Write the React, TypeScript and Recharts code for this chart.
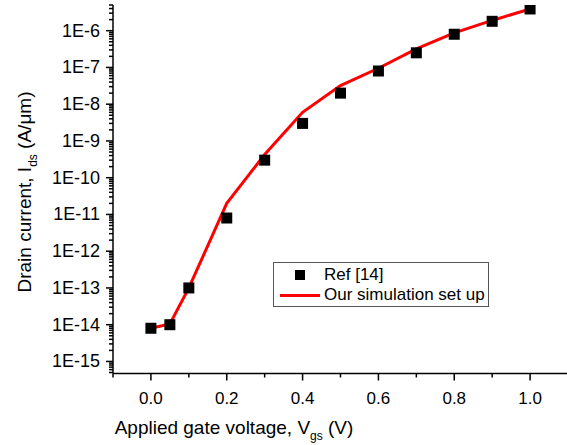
import { LineChart, Line, XAxis, YAxis } from "recharts";

// gate voltage (V)
const vgs = [0, 0.05, 0.1, 0.2, 0.3, 0.4, 0.5, 0.6, 0.7, 0.8, 0.9, 1.0];
// Ref [14] drain current (A/um)
const idsRef = [8e-15, 1e-14, 1e-13, 8e-12, 3e-10, 3e-9, 2e-8, 8e-8, 2.5e-7, 8e-7, 1.8e-6, 3.9e-6];
// our simulation set up (A/um)
const idsSim = [8e-15, 1.05e-14, 1e-13, 2e-11, 4.3e-10, 6e-9, 3.2e-8, 9.5e-8, 3.2e-7, 8.7e-7, 1.9e-6, 3.9e-6];

const xMajor = [0, 0.2, 0.4, 0.6, 0.8, 1.0];
const xMinor = [-0.1, 0.1, 0.3, 0.5, 0.7, 0.9];

const Y_MIN = 4.7e-16;
const Y_MAX = 5e-6;

// plot frame (px)
const AXIS_X = 113;
const AXIS_Y = 373.5;

const refData = vgs.map((v, i) => ({ v, ids: idsRef[i] }));
const simData = vgs.map((v, i) => ({ v, ids: idsSim[i] }));

const xTicks = [...xMajor, ...xMinor].sort((a, b) => a - b);
const yTicks: number[] = [];
for (let e = -16; e <= -6; e++) {
  for (let m = 1; m <= 9; m++) {
    const val = m * Math.pow(10, e);
    if (val >= Y_MIN && val <= Y_MAX) yTicks.push(val);
  }
}

const FONT = "Arial, 'Liberation Sans', sans-serif";

const isMajorY = (val: number) => {
  const lg = Math.log10(val);
  return Math.abs(lg - Math.round(lg)) < 1e-6;
};

const YTick = (props: any) => {
  const { y, payload } = props;
  const major = isMajorY(payload.value);
  const x = AXIS_X;
  return (
    <g>
      <line x1={x} x2={x - (major ? 7 : 4)} y1={y} y2={y} stroke="#000" strokeWidth={1.5} />
      {major && (
        <text x={x - 13} y={y} dy={6} textAnchor="end" fontSize={18} fontFamily={FONT} fill="#000">
          {`1E${Math.round(Math.log10(payload.value))}`}
        </text>
      )}
    </g>
  );
};

const XTick = (props: any) => {
  const { x, payload } = props;
  const major = xMajor.some((m) => Math.abs(m - payload.value) < 1e-6);
  const y = AXIS_Y;
  return (
    <g>
      <line x1={x} x2={x} y1={y} y2={y + (major ? 7 : 4)} stroke="#000" strokeWidth={1.5} />
      {major && (
        <text x={x} y={y + 30} textAnchor="middle" fontSize={17} fontFamily={FONT} fill="#000">
          {payload.value.toFixed(1)}
        </text>
      )}
    </g>
  );
};

const SquareDot = (props: any) => {
  const { cx, cy, index } = props;
  if (cx == null || cy == null) return <g key={index} />;
  return <rect key={index} x={cx - 5.5} y={cy - 5.5} width={11} height={11} fill="#000" />;
};

const XTitle = () => (
  <text x={234} y={434} textAnchor="middle" fontSize={19} fontFamily={FONT} fill="#000">
    Applied gate voltage, V
    <tspan fontSize={12} dy={6}>gs</tspan>
    <tspan dy={-6}> (V)</tspan>
  </text>
);

const YTitle = () => (
  <text
    x={0}
    y={0}
    transform="translate(31, 192) rotate(-90)"
    textAnchor="middle"
    fontSize={19}
    fontFamily={FONT}
    fill="#000"
  >
    Drain current, I
    <tspan fontSize={12} dy={6}>ds</tspan>
    <tspan dy={-6}> (A/μm)</tspan>
  </text>
);

const LegendBox = () => (
  <div
    style={{
      position: "absolute",
      left: 273,
      top: 262,
      width: 214,
      height: 43,
      border: "1px solid #555",
      background: "#fff",
      fontFamily: FONT,
      fontSize: 17,
      color: "#000",
    }}
  >
    <div style={{ position: "absolute", left: 21, top: 7, width: 10, height: 10, background: "#000" }} />
    <div style={{ position: "absolute", left: 50, top: 1, lineHeight: "22px" }}>Ref [14]</div>
    <div style={{ position: "absolute", left: 6, top: 31, width: 40, height: 3, background: "#ff0000" }} />
    <div style={{ position: "absolute", left: 50, top: 21, lineHeight: "22px" }}>Our simulation set up</div>
  </div>
);

export default function App() {
  return (
    <div style={{ position: "absolute", left: 0, top: 0, width: 567, height: 445, overflow: "hidden", background: "#fff" }}>
      <LineChart width={580} height={445} margin={{ top: 5, right: 12, bottom: 21.5, left: 53 }}>
        <XAxis
          type="number"
          dataKey="v"
          domain={[-0.1, 1.1]}
          ticks={xTicks}
          interval={0}
          tickSize={0}
          tickMargin={0}
          tickLine={false}
          tick={<XTick />}
          axisLine={{ stroke: "#000", strokeWidth: 1.5 }}
          height={50}
          allowDataOverflow
          label={<XTitle />}
        />
        <YAxis
          type="number"
          dataKey="ids"
          scale="log"
          domain={[Y_MIN, Y_MAX]}
          ticks={yTicks}
          interval={0}
          tickSize={0}
          tickMargin={0}
          tickLine={false}
          tick={<YTick />}
          axisLine={{ stroke: "#000", strokeWidth: 1.5 }}
          width={60}
          allowDataOverflow
          label={<YTitle />}
        />
        <Line
          data={refData}
          dataKey="ids"
          name="Ref [14]"
          stroke="none"
          dot={<SquareDot />}
          activeDot={false}
          isAnimationActive={false}
        />
        <Line
          data={simData}
          dataKey="ids"
          name="Our simulation set up"
          stroke="#ff0000"
          strokeWidth={3}
          dot={false}
          activeDot={false}
          isAnimationActive={false}
        />
      </LineChart>
      <LegendBox />
    </div>
  );
}
